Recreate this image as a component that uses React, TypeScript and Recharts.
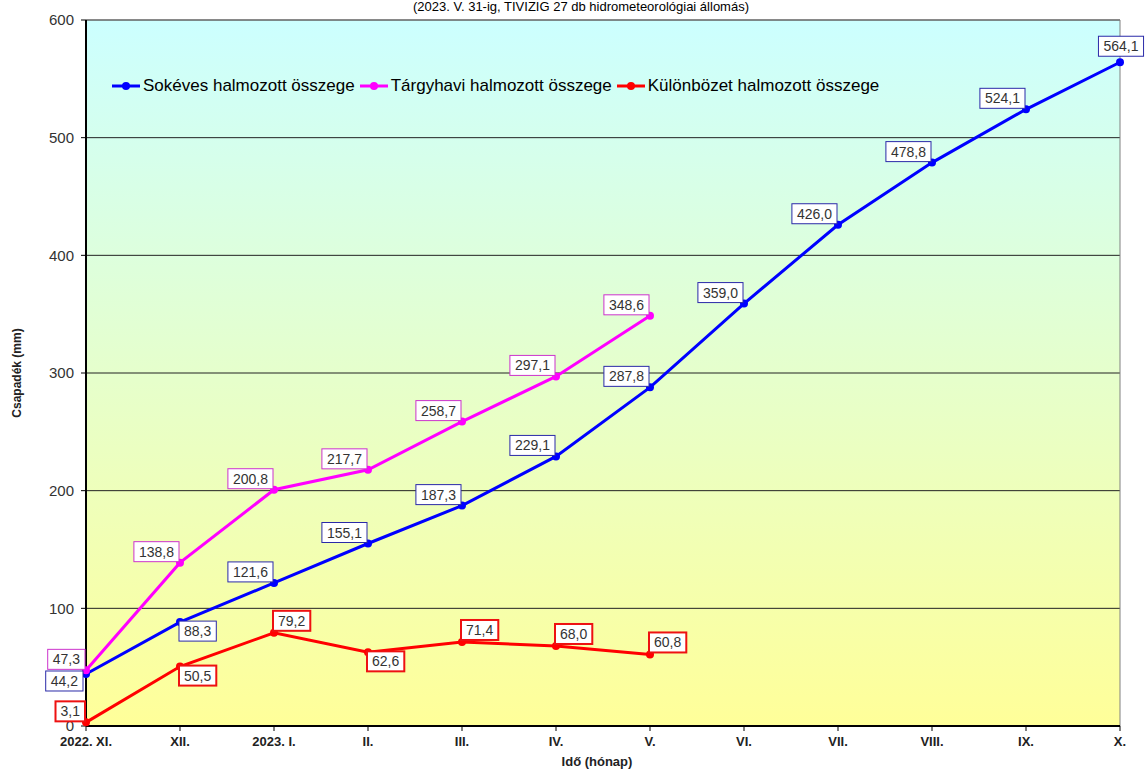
import {
  LineChart,
  Line,
  XAxis,
  YAxis,
  CartesianGrid,
  ReferenceLine,
  LabelList,
  Legend,
} from "recharts";

// monthly cumulative precipitation (mm)
const months = [
  "2022. XI.",
  "XII.",
  "2023. I.",
  "II.",
  "III.",
  "IV.",
  "V.",
  "VI.",
  "VII.",
  "VIII.",
  "IX.",
  "X.",
];
const longTermSum = [44.2, 88.3, 121.6, 155.1, 187.3, 229.1, 287.8, 359.0, 426.0, 478.8, 524.1, 564.1];
const currentSum = [47.3, 138.8, 200.8, 217.7, 258.7, 297.1, 348.6];
const differenceSum = [3.1, 50.5, 79.2, 62.6, 71.4, 68.0, 60.8];
const yTicks = [0, 100, 200, 300, 400, 500, 600];
const seriesNames = [
  "Sokéves halmozott összege",
  "Tárgyhavi halmozott összege",
  "Különbözet halmozott összege",
];

const BLUE = "#0000FF";
const MAGENTA = "#FF00FF";
const RED = "#FF0000";
const FONT = 'Arial, "Liberation Sans", sans-serif';

const chartData = months.map((m, i) => ({
  month: m,
  longTerm: longTermSum[i],
  current: currentSum[i] ?? null,
  diff: differenceSum[i] ?? null,
}));

// where each value box sits relative to its point
type Place = "tl" | "tr" | "bl" | "br" | "t";
const longTermPlace: Place[] = ["bl", "br", "tl", "tl", "tl", "tl", "tl", "tl", "tl", "tl", "tl", "t"];
const currentPlace: Place[] = ["tl", "tl", "tl", "tl", "tl", "tl", "tl"];
const diffPlace: Place[] = ["tl", "br", "tr", "br", "tr", "tr", "tr"];

const fmt = (v: number) => v.toFixed(1).replace(".", ",");

function boxLabel(place: Place[], border: string, borderWidth: number) {
  return (props: any) => {
    const { x, y, value, index } = props;
    if (value == null) return null;
    const text = fmt(Number(value));
    const w = (text.length - 1) * 7.8 + 3.9 + 10;
    const h = 20;
    let rx = x - w - 1;
    let ry = y - h - 1;
    switch (place[index]) {
      case "tr":
        rx = x - 1;
        ry = y - h - 2;
        break;
      case "br":
        rx = x - 1;
        ry = y - 1;
        break;
      case "bl":
        rx = x - w - 3;
        ry = y - 3;
        break;
      case "t":
        rx = x - w / 2 + 1;
        ry = y - h - 6;
        break;
    }
    return (
      <g>
        <rect x={rx} y={ry} width={w} height={h} fill="#fff" stroke={border} strokeWidth={borderWidth} />
        <text
          x={rx + w / 2}
          y={ry + h / 2}
          dy="0.36em"
          textAnchor="middle"
          fontSize={14}
          fontFamily={FONT}
          fill="#333"
        >
          {text}
        </text>
      </g>
    );
  };
}

function LegendRow(props: any) {
  const items = [...(props.payload || [])].sort(
    (a: any, b: any) => seriesNames.indexOf(a.value) - seriesNames.indexOf(b.value)
  );
  return (
    <div style={{ display: "flex", alignItems: "center", fontFamily: FONT, fontSize: 17, color: "#000", whiteSpace: "nowrap" }}>
      {items.map((entry: any) => (
        <div key={entry.value} style={{ display: "flex", alignItems: "center", marginRight: 5 }}>
          <svg width={28} height={12} style={{ marginRight: 3 }}>
            <line x1={0} y1={6} x2={28} y2={6} stroke={entry.color} strokeWidth={3} />
            <circle cx={14} cy={6} r={4} fill={entry.color} />
          </svg>
          <span>{entry.value}</span>
        </div>
      ))}
    </div>
  );
}

export default function App() {
  return (
    <div
      style={{
        position: "absolute",
        left: 0,
        top: 0,
        width: 1145,
        height: 769,
        overflow: "hidden",
        background: "#fff",
        fontFamily: FONT,
      }}
    >
      <svg width={0} height={0} style={{ position: "absolute" }}>
        <defs>
          <linearGradient id="plotBg" x1="0" y1="0" x2="0" y2="1">
            <stop offset="0%" stopColor="#CCFFFF" />
            <stop offset="100%" stopColor="#FFFF99" />
          </linearGradient>
        </defs>
      </svg>

      <div
        style={{
          position: "absolute",
          top: -1,
          left: 0,
          width: 1162,
          textAlign: "center",
          fontSize: 13,
          lineHeight: "15px",
          color: "#000",
        }}
      >
        (2023. V. 31-ig, TIVIZIG 27 db hidrometeorológiai állomás)
      </div>

      <LineChart
        width={1145}
        height={769}
        data={chartData}
        margin={{ top: 20, right: 25, bottom: 0, left: 0 }}
      >
        <CartesianGrid vertical={false} stroke="#222" fill="url(#plotBg)" />
        <ReferenceLine y={600} stroke="#808080" />
        <ReferenceLine x="X." stroke="#808080" />
        <XAxis
          dataKey="month"
          height={43}
          axisLine={{ stroke: "#000", strokeWidth: 2 }}
          tickLine={{ stroke: "#000" }}
          tickSize={5}
          tickMargin={6}
          interval={0}
          tick={{ fill: "#222", fontSize: 13, fontWeight: "bold", fontFamily: FONT }}
          label={{
            value: "Idő (hónap)",
            position: "insideBottom",
            offset: 3,
            dx: -6,
            style: { fontSize: 13, fontWeight: "bold", fill: "#222", fontFamily: FONT },
          }}
        />
        <YAxis
          width={86}
          domain={[0, 600]}
          ticks={yTicks}
          axisLine={{ stroke: "#000", strokeWidth: 2 }}
          tickLine={{ stroke: "#000" }}
          tickSize={5}
          tickMargin={7}
          tick={{ fill: "#333", fontSize: 15, fontFamily: FONT }}
          label={{
            value: "Csapadék (mm)",
            angle: -90,
            position: "insideLeft",
            offset: 17,
            style: { textAnchor: "middle", fontSize: 12, fontWeight: "bold", fill: "#222", fontFamily: FONT },
          }}
        />
        <Legend
          layout="vertical"
          align="center"
          verticalAlign="middle"
          wrapperStyle={{ top: 76, left: 112, width: "auto" }}
          content={LegendRow}
        />
        <Line
          name={seriesNames[0]}
          dataKey="longTerm"
          stroke={BLUE}
          strokeWidth={3}
          dot={{ r: 4, fill: BLUE, stroke: BLUE, strokeWidth: 0 }}
          isAnimationActive={false}
        >
          <LabelList dataKey="longTerm" content={boxLabel(longTermPlace, "#2a2aa8", 1)} />
        </Line>
        <Line
          name={seriesNames[1]}
          dataKey="current"
          stroke={MAGENTA}
          strokeWidth={3}
          dot={{ r: 4, fill: MAGENTA, stroke: MAGENTA, strokeWidth: 0 }}
          isAnimationActive={false}
        >
          <LabelList dataKey="current" content={boxLabel(currentPlace, "#cc33cc", 1)} />
        </Line>
        <Line
          name={seriesNames[2]}
          dataKey="diff"
          stroke={RED}
          strokeWidth={3}
          dot={{ r: 4, fill: RED, stroke: RED, strokeWidth: 0 }}
          isAnimationActive={false}
        >
          <LabelList dataKey="diff" content={boxLabel(diffPlace, "#ee1111", 2)} />
        </Line>
      </LineChart>
    </div>
  );
}
